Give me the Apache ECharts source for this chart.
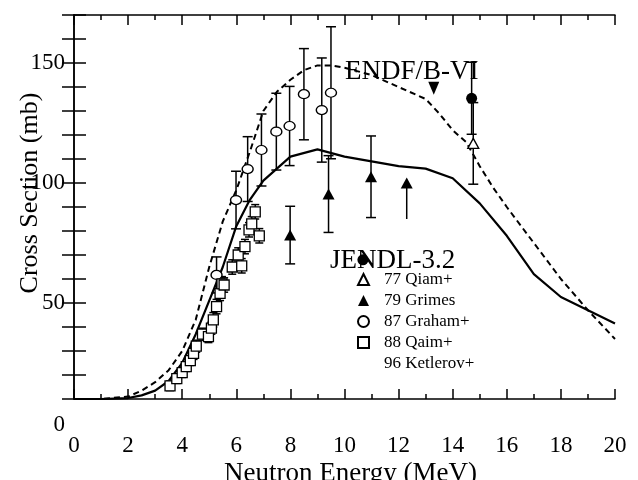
<!DOCTYPE html>
<html>
<head>
<meta charset="utf-8">
<script src="https://cdn.jsdelivr.net/npm/echarts@6/dist/echarts.min.js"></script>
<style>
  html, body { margin: 0; padding: 0; background: #fff; }
  #chart { width: 638px; height: 480px; }
</style>
</head>
<body>
<div id="chart"></div>
<script>
// evaluated curves [E (MeV), sigma (mb)]
const endfCurve = [[0,10],[1,10],[2,11],[2.5,13.5],[3,17],[3.5,22],[4,30],[4.5,43],[5,65],[5.5,84],[6,97],[6.5,113],[7,130],[7.5,138],[8,143],[8.5,147],[9,149],[9.5,149],[10,148],[11,145],[12,140],[13,135],[13.5,129],[14,122],[14.5,117],[15,107],[15.5,98],[16,90],[17,75],[18,60],[19,47],[20,35]];
const jendlCurve = [[0,10],[1,10],[2,10.4],[2.5,11.5],[3,13.5],[3.5,17.5],[4,25],[4.5,37],[5,51],[5.5,65],[6,82],[6.5,93],[7,101],[7.5,106],[8,111],[9,114],[10,111],[11,109],[12,107],[13,106],[14,102],[15,91.5],[16,78],[17,62],[18,52.5],[19,47],[20,41.5]];

// measurements [E, sigma, error]
const qaim77 = [[14.76,116.5,17]];
const grimes79 = [[7.99,78.3,12],[9.41,95.4,16],[10.98,102.6,17]];
const grimesLimit = [[12.3,100,85]];   // [E, sigma, lower end of line]
const graham87 = [[5.27,61.7,7.5],[5.99,92.9,12],[6.42,105.8,13.5],[6.93,113.75,15],[7.48,121.4,16],[7.97,123.75,16.5],[8.5,137,19],[9.16,130.4,21.7],[9.5,137.6,27.5]];
const qaim88 = [[3.55,15.5,2],[3.8,18.5,2],[4.0,21,2],[4.15,23.5,2],[4.3,26,2],[4.42,29,2.5],[4.52,32,2.5],[4.75,37,2.5],[4.97,36,2.5],[5.08,39.5,2.5],[5.15,43,3],[5.27,48.5,3],[5.4,54,3],[5.47,58,3],[5.55,57.5,3],[5.85,65,3],[6.07,70,3],[6.2,65.5,3],[6.32,73.5,3],[6.47,80.5,3],[6.57,83,3],[6.7,88,3],[6.85,78,3]];
const ketlerov96 = [[14.7,135.3,15]];
const ketlerovKeyDot = [[10.68,68]];
const endfArrow = [[13.3,139.5]];

const xTicks = [0,2,4,6,8,10,12,14,16,18,20];
const yTickLabels = [50,100,150];

const FONT = 'Liberation Serif';

function errBars(data, cap) {
  return {
    type: 'custom',
    data: data,
    z: 3,
    renderItem: function (params, api) {
      const x = api.value(0), y = api.value(1), e = api.value(2);
      const hi = api.coord([x, y + e]);
      const lo = api.coord([x, y - e]);
      const st = { stroke: '#000', lineWidth: 1.5 };
      return {
        type: 'group',
        children: [
          { type: 'line', shape: { x1: hi[0], y1: hi[1], x2: lo[0], y2: lo[1] }, style: st },
          { type: 'line', shape: { x1: hi[0] - cap, y1: hi[1], x2: hi[0] + cap, y2: hi[1] }, style: st },
          { type: 'line', shape: { x1: lo[0] - cap, y1: lo[1], x2: lo[0] + cap, y2: lo[1] }, style: st }
        ]
      };
    }
  };
}

const chart = echarts.init(document.getElementById('chart'));

const axisCommon = {
  type: 'value',
  axisLine: { show: true, lineStyle: { color: '#000', width: 1.5 } },
  axisTick: { show: true, inside: true, length: 10, lineStyle: { color: '#000', width: 1.5 } },
  splitLine: { show: false }
};

chart.setOption({
  animation: false,
  backgroundColor: '#fff',
  grid: { left: 74, right: 23, top: 15, bottom: 81, containLabel: false, outerBoundsMode: 'none' },
  xAxis: [
    Object.assign({}, axisCommon, {
      min: 0, max: 20, interval: 2,
      minorTick: { show: true, splitNumber: 2, length: 5, lineStyle: { color: '#000', width: 1.5 } },
      axisLabel: { margin: 35, fontFamily: FONT, fontSize: 23, color: '#000',
        formatter: v => xTicks.indexOf(v) >= 0 ? String(v) : '' },
      name: 'Neutron Energy (MeV)', nameLocation: 'middle', nameGap: 61, nameMoveOverlap: false,
      nameTextStyle: { fontFamily: FONT, fontSize: 27, color: '#000', padding: [0, 0, 0, 12] }
    }),
    Object.assign({}, axisCommon, {
      position: 'top', min: 0, max: 20, interval: 2,
      minorTick: { show: true, splitNumber: 2, length: 5, lineStyle: { color: '#000', width: 1.5 } },
      axisLabel: { show: false }
    })
  ],
  yAxis: [
    Object.assign({}, axisCommon, {
      min: 10, max: 170, interval: 10,
      axisTick: { show: true, inside: true, length: 12, lineStyle: { color: '#000', width: 1.5 } },
      axisLabel: { margin: 9, fontFamily: FONT, fontSize: 23, color: '#000',
        formatter: v => yTickLabels.indexOf(v) >= 0 ? String(v) : '' },
      name: 'Cross Section (mb)', nameLocation: 'middle', nameGap: 31, nameRotate: 90, nameMoveOverlap: false,
      nameTextStyle: { fontFamily: FONT, fontSize: 26, color: '#000', padding: [0, 0, 0, 28] }
    }),
    Object.assign({}, axisCommon, {
      position: 'right', min: 10, max: 170, interval: 10,
      axisTick: { show: true, inside: true, length: 12, lineStyle: { color: '#000', width: 1.5 } },
      axisLabel: { show: false }
    })
  ],
  legend: {
    orient: 'vertical', left: 352, top: 266, itemGap: 4,
    itemWidth: 11, itemHeight: 11, selectedMode: false,
    textStyle: { fontFamily: FONT, fontSize: 17, color: '#000', padding: [0, 0, 0, 10] },
    data: [
      { name: '77 Qiam+' },
      { name: '79 Grimes' },
      { name: '87 Graham+' },
      { name: '88 Qaim+' },
      { name: '96 Ketlerov+', itemStyle: { opacity: 0 } }
    ]
  },
  graphic: [
    { type: 'text', left: 345, top: 58, style: { text: 'ENDF/B-VI', fontFamily: FONT, fontSize: 27, fill: '#000' }, z: 10 },
    { type: 'text', left: 330, top: 247, style: { text: 'JENDL-3.2', fontFamily: FONT, fontSize: 27, fill: '#000' }, z: 10 },
    { type: 'text', right: 638 - 65, top: 413, style: { text: '0', fontFamily: FONT, fontSize: 23, fill: '#000' } }
  ],
  series: [
    { name: 'ENDF/B-VI', type: 'line', data: endfCurve, showSymbol: false, smooth: false,
      lineStyle: { color: '#000', width: 2, type: [6, 4] }, z: 2 },
    { name: 'JENDL-3.2', type: 'line', data: jendlCurve, showSymbol: false,
      lineStyle: { color: '#000', width: 2.2 }, z: 2 },
    errBars(graham87, 5),
    errBars(grimes79, 5),
    errBars(qaim88, 4),
    errBars(qaim77, 5),
    errBars(ketlerov96, 5),
    {
      type: 'custom', data: grimesLimit, z: 3,
      renderItem: function (params, api) {
        const p = api.coord([api.value(0), api.value(1)]);
        const q = api.coord([api.value(0), api.value(2)]);
        return { type: 'line', shape: { x1: p[0], y1: p[1], x2: q[0], y2: q[1] }, style: { stroke: '#000', lineWidth: 1.5 } };
      }
    },
    { name: '87 Graham+', type: 'scatter', data: graham87, symbol: 'circle', symbolSize: [11, 9],
      itemStyle: { color: '#fff', borderColor: '#000', borderWidth: 1.3, opacity: 1 }, z: 4 },
    { name: '88 Qaim+', type: 'scatter', data: qaim88, symbol: 'rect', symbolSize: 10,
      itemStyle: { color: '#fff', borderColor: '#000', borderWidth: 1.3, opacity: 1 }, z: 4 },
    { name: '79 Grimes', type: 'scatter', data: grimes79.concat(grimesLimit.map(d => [d[0], d[1]])), symbol: 'triangle', symbolSize: [12, 11],
      itemStyle: { color: '#000', opacity: 1 }, z: 4 },
    { name: '77 Qiam+', type: 'scatter', data: qaim77, symbol: 'triangle', symbolSize: [11, 10],
      itemStyle: { color: '#fff', borderColor: '#000', borderWidth: 1.3, opacity: 1 }, z: 4 },
    { name: '96 Ketlerov+', type: 'scatter', data: ketlerov96, symbol: 'circle', symbolSize: 11,
      itemStyle: { color: '#000', opacity: 1 }, z: 4 },
    { type: 'scatter', data: ketlerovKeyDot, symbol: 'circle', symbolSize: 11,
      itemStyle: { color: '#000', opacity: 1 }, z: 11 },
    { type: 'scatter', data: endfArrow, symbol: 'triangle', symbolRotate: 180, symbolSize: [11, 13],
      itemStyle: { color: '#000', opacity: 1 }, z: 4 }
  ]
});
</script>
</body>
</html>
